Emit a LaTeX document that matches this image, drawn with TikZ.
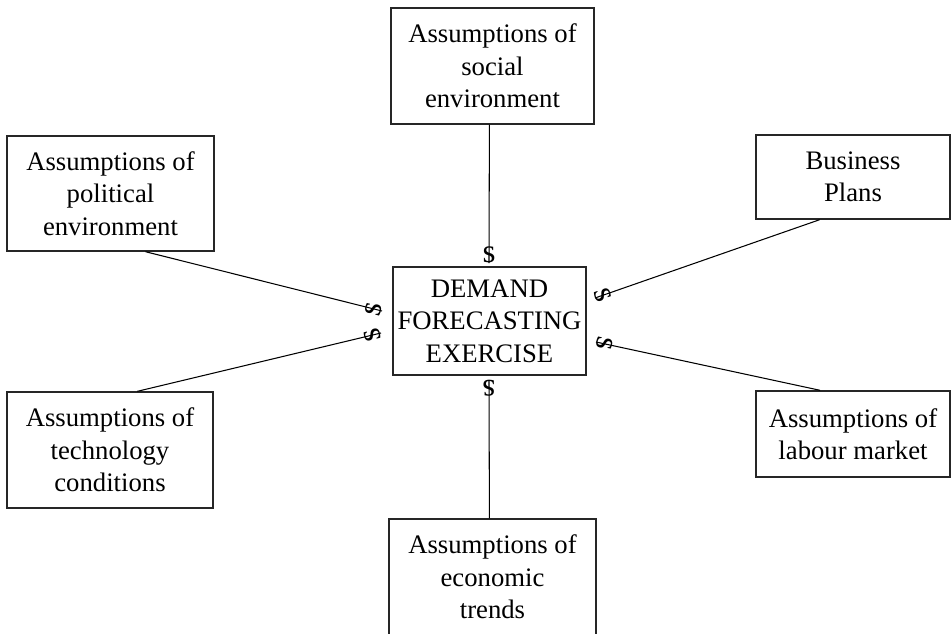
\documentclass[tikz,border=0pt]{standalone}
\usepackage{fontspec}
\setmainfont{Liberation Serif}

\begin{document}
\begin{tikzpicture}[x=0.02cm, y=-0.02cm,
	box/.style={draw=black!85, line width=0.8pt, align=center, inner sep=0pt, font=\fontsize{15.2}{18.4}\selectfont},
	tipmark/.style={inner sep=0pt, anchor=south, font=\fontsize{19}{19}\selectfont}]

	\useasboundingbox (0,0) rectangle (951,633);

	% draw centre box
	\node[box, minimum width=3.86cm, minimum height=2.16cm] (dem) at (489.5,321) {DEMAND\\FORECASTING\\EXERCISE};

	% draw outer boxes
	\node[box, minimum width=4.06cm, minimum height=2.32cm] (soc) at (492.5,66) {Assumptions of\\social\\environment};
	\node[box, minimum width=4.14cm, minimum height=2.30cm] (pol) at (110.5,193.5) {Assumptions of\\political\\environment};
	\node[box, minimum width=3.88cm, minimum height=1.68cm] (bus) at (853,177) {Business\\Plans};
	\node[box, minimum width=4.12cm, minimum height=2.32cm] (tec) at (110,450) {Assumptions of\\technology\\conditions};
	\node[box, minimum width=3.88cm, minimum height=1.72cm] (lab) at (853,434) {Assumptions of\\labour market};
	\node[box, minimum width=4.14cm, minimum height=2.32cm] (eco) at (492.5,577) {Assumptions of\\economic\\trends};

	% ends of the edges in front of the centre box
	\coordinate (t_soc) at (489,263);
	\coordinate (t_pol) at (382,311);
	\coordinate (t_bus) at (595,298);
	\coordinate (t_tec) at (381,333);
	\coordinate (t_lab) at (596,342);
	\coordinate (t_eco) at (489,380);

	% draw edges
	\foreach \b/\t/\r in {soc.-93/t_soc/0, pol.-59/t_pol/76, bus.-128/t_bus/-71,
		tec.65/t_tec/104, lab.127/t_lab/258, eco.93/t_eco/180}
	{
		\draw[line width=0.6pt] (\b) -- (\t) node[tipmark, rotate=\r] {s};
	}

\end{tikzpicture}
\end{document}
